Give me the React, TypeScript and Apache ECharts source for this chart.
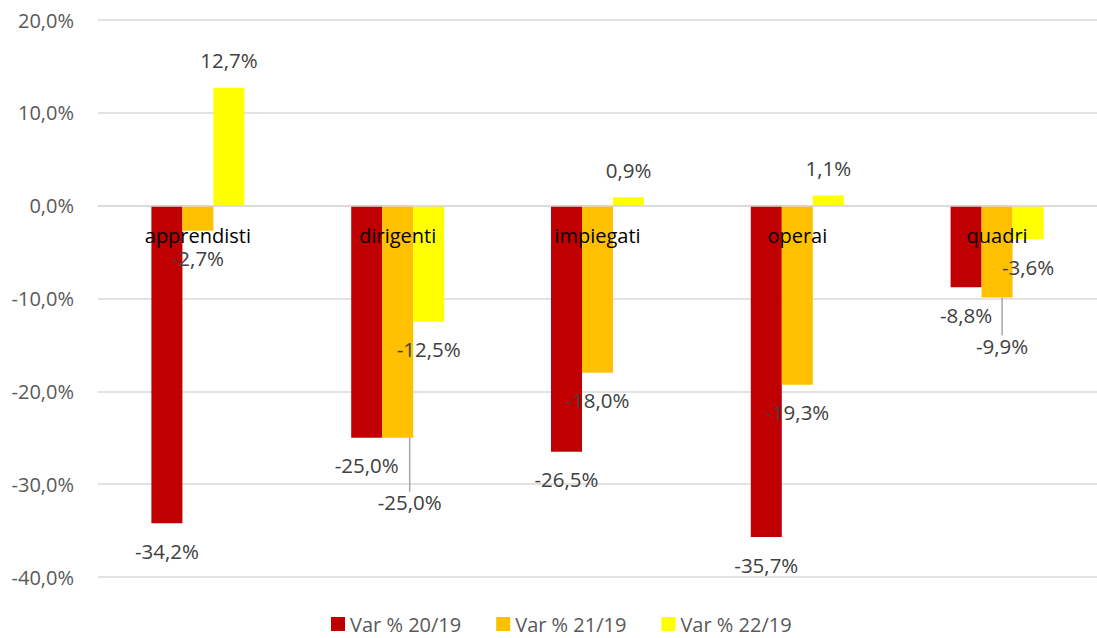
import React, { useEffect, useRef } from "react";
import * as echarts from "echarts";

const categories = ["apprendisti", "dirigenti", "impiegati", "operai", "quadri"];
const seriesNames = ["Var % 20/19", "Var % 21/19", "Var % 22/19"];
const var2019 = [-34.2, -25.0, -26.5, -35.7, -8.8];
const var2119 = [-2.7, -25.0, -18.0, -19.3, -9.9];
const var2219 = [12.7, -12.5, 0.9, 1.1, -3.6];
const colors = ["#C00000", "#FFC000", "#FFFF00"];
const yTicks = [-40, -30, -20, -10, 0, 10, 20];

const FONT = "'Open Sans', sans-serif";
const GRID_TOP = 20;
const GRID_BOTTOM = 61;
const CHART_H = 638;

const fmt = (v: number) => v.toFixed(1).replace(".", ",") + "%";

export default function App() {
  const ref = useRef<HTMLDivElement>(null);
  useEffect(() => {
    if (!ref.current) return;
    const chart = echarts.init(ref.current, null, { renderer: "svg" });
    const allData = [var2019, var2119, var2219];
    const moved: Record<string, [number, number]> = {
      "1-1": [12, 37],
      "1-4": [5, 21],
    };
    const yMin = yTicks[0];
    const yMax = yTicks[yTicks.length - 1];
    const plotH = CHART_H - GRID_TOP - GRID_BOTTOM;
    // place the category axis at the zero line
    const zeroOffset = -((0 - yMin) / (yMax - yMin)) * plotH;
    chart.setOption({
      animation: false,
      textStyle: { fontFamily: FONT },
      grid: { left: 98, right: -6, top: GRID_TOP, bottom: GRID_BOTTOM, containLabel: false },
      legend: {
        data: seriesNames,
        left: 331,
        top: 614,
        padding: 0,
        icon: "rect",
        itemWidth: 14,
        itemHeight: 14,
        itemGap: 35,
        textStyle: { color: "#595959", fontSize: 20, lineHeight: 20, fontFamily: FONT },
      },
      xAxis: {
        type: "category",
        data: categories,
        z: 10,
        offset: zeroOffset,
        axisLine: { onZero: false, lineStyle: { color: "#d9d9d9", width: 1.5 } },
        axisTick: { show: false },
        axisLabel: { color: "#000000", fontSize: 20, fontFamily: FONT, margin: 20 },
      },
      yAxis: {
        type: "value",
        min: yMin,
        max: yMax,
        interval: 10,
        axisLine: { show: false },
        axisTick: { show: false },
        splitLine: { lineStyle: { color: "#d9d9d9", width: 1.5 } },
        axisLabel: {
          color: "#595959",
          fontSize: 20,
          fontFamily: FONT,
          margin: 24,
          formatter: (v: number) => fmt(v),
        },
      },
      series: allData.map((arr, si) => ({
        type: "bar",
        name: seriesNames[si],
        barWidth: 31,
        barGap: "0%",
        itemStyle: { color: colors[si] },
        z: 2,
        data: arr.map((v, di) => ({
          value: v,
          label: {
            position: v >= 0 ? "top" : "bottom",
          },
          labelLine: moved[si + "-" + di]
            ? { show: true, lineStyle: { color: "#a6a6a6", width: 1.5 } }
            : { show: false },
        })),
        label: {
          show: true,
          distance: 17,
          color: "#404040",
          fontSize: 20.5,
          fontFamily: FONT,
          formatter: (p: any) => fmt(p.value),
        },
        labelLayout: (p: any) => {
          const m = moved[p.seriesIndex + "-" + p.dataIndex];
          return m ? { dx: m[0], dy: m[1] } : {};
        },
      })),
    });
    return () => chart.dispose();
  }, []);
  return <div ref={ref} style={{ width: 1097, height: 638, position: "absolute", left: 0, top: 0 }} />;
}
